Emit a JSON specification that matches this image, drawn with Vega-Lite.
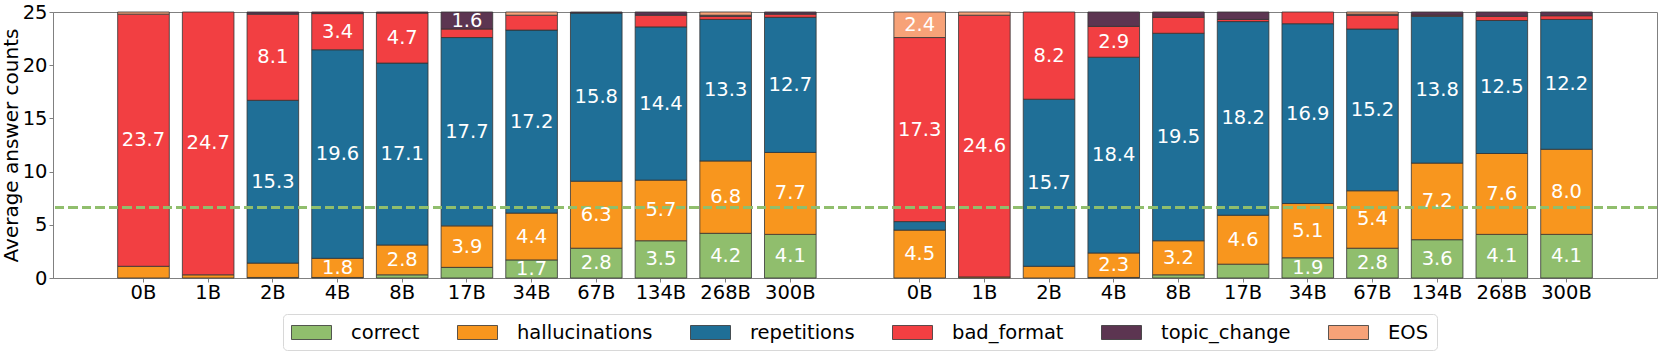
{
  "$schema": "https://vega.github.io/schema/vega-lite/v6.json",
  "width": 1604,
  "height": 266,
  "autosize": "none",
  "padding": {"left": 53, "top": 12, "right": 4, "bottom": 78},
  "config": {"font": "DejaVu Sans", "view": {"stroke": "#808080", "strokeWidth": 1}},
  "data": {
    "values": [
      {"id": "a:0B", "correct": 0, "hallucinations": 1.1, "repetitions": 0, "bad_format": 23.7, "topic_change": 0, "EOS": 0.2},
      {"id": "a:1B", "correct": 0, "hallucinations": 0.3, "repetitions": 0, "bad_format": 24.7, "topic_change": 0, "EOS": 0},
      {"id": "a:2B", "correct": 0.05, "hallucinations": 1.35, "repetitions": 15.3, "bad_format": 8.1, "topic_change": 0.2, "EOS": 0},
      {"id": "a:4B", "correct": 0.05, "hallucinations": 1.8, "repetitions": 19.6, "bad_format": 3.4, "topic_change": 0.15, "EOS": 0},
      {"id": "a:8B", "correct": 0.3, "hallucinations": 2.8, "repetitions": 17.1, "bad_format": 4.7, "topic_change": 0.1, "EOS": 0},
      {"id": "a:17B", "correct": 1.0, "hallucinations": 3.9, "repetitions": 17.7, "bad_format": 0.8, "topic_change": 1.6, "EOS": 0},
      {"id": "a:34B", "correct": 1.7, "hallucinations": 4.4, "repetitions": 17.2, "bad_format": 1.4, "topic_change": 0, "EOS": 0.3},
      {"id": "a:67B", "correct": 2.8, "hallucinations": 6.3, "repetitions": 15.8, "bad_format": 0, "topic_change": 0.1, "EOS": 0},
      {"id": "a:134B", "correct": 3.5, "hallucinations": 5.7, "repetitions": 14.4, "bad_format": 1.1, "topic_change": 0.3, "EOS": 0},
      {"id": "a:268B", "correct": 4.2, "hallucinations": 6.8, "repetitions": 13.3, "bad_format": 0.3, "topic_change": 0.1, "EOS": 0.3},
      {"id": "a:300B", "correct": 4.1, "hallucinations": 7.7, "repetitions": 12.7, "bad_format": 0.3, "topic_change": 0.2, "EOS": 0},
      {"id": "b:0B", "correct": 0, "hallucinations": 4.5, "repetitions": 0.8, "bad_format": 17.3, "topic_change": 0, "EOS": 2.4},
      {"id": "b:1B", "correct": 0, "hallucinations": 0.1, "repetitions": 0, "bad_format": 24.6, "topic_change": 0, "EOS": 0.3},
      {"id": "b:2B", "correct": 0, "hallucinations": 1.1, "repetitions": 15.7, "bad_format": 8.2, "topic_change": 0, "EOS": 0},
      {"id": "b:4B", "correct": 0.05, "hallucinations": 2.3, "repetitions": 18.4, "bad_format": 2.9, "topic_change": 1.35, "EOS": 0},
      {"id": "b:8B", "correct": 0.3, "hallucinations": 3.2, "repetitions": 19.5, "bad_format": 1.5, "topic_change": 0.5, "EOS": 0},
      {"id": "b:17B", "correct": 1.3, "hallucinations": 4.6, "repetitions": 18.2, "bad_format": 0.2, "topic_change": 0.7, "EOS": 0},
      {"id": "b:34B", "correct": 1.9, "hallucinations": 5.1, "repetitions": 16.9, "bad_format": 1.1, "topic_change": 0, "EOS": 0},
      {"id": "b:67B", "correct": 2.8, "hallucinations": 5.4, "repetitions": 15.2, "bad_format": 1.3, "topic_change": 0.1, "EOS": 0.2},
      {"id": "b:134B", "correct": 3.6, "hallucinations": 7.2, "repetitions": 13.8, "bad_format": 0.1, "topic_change": 0.3, "EOS": 0},
      {"id": "b:268B", "correct": 4.1, "hallucinations": 7.6, "repetitions": 12.5, "bad_format": 0.4, "topic_change": 0.4, "EOS": 0},
      {"id": "b:300B", "correct": 4.1, "hallucinations": 8.0, "repetitions": 12.2, "bad_format": 0.35, "topic_change": 0.35, "EOS": 0}
    ]
  },
  "transform": [
    {"fold": ["correct", "hallucinations", "repetitions", "bad_format", "topic_change", "EOS"], "as": ["category", "value"]},
    {"stack": "value", "groupby": ["id"], "as": ["v0", "v1"]}
  ],
  "layer": [
    {
      "mark": {"type": "bar", "stroke": "#333333", "strokeWidth": 0.8},
      "transform": [{"filter": "datum.value > 0"}],
      "encoding": {
        "x": {
          "field": "id",
          "type": "nominal",
          "scale": {
            "domain": ["a:0B", "a:1B", "a:2B", "a:4B", "a:8B", "a:17B", "a:34B", "a:67B", "a:134B", "a:268B", "a:300B", "gap", "b:0B", "b:1B", "b:2B", "b:4B", "b:8B", "b:17B", "b:34B", "b:67B", "b:134B", "b:268B", "b:300B"],
            "paddingInner": 0.202,
            "paddingOuter": 1.151
          },
          "axis": {
            "title": null,
            "values": ["a:0B", "a:1B", "a:2B", "a:4B", "a:8B", "a:17B", "a:34B", "a:67B", "a:134B", "a:268B", "a:300B", "b:0B", "b:1B", "b:2B", "b:4B", "b:8B", "b:17B", "b:34B", "b:67B", "b:134B", "b:268B", "b:300B"],
            "labelExpr": "split(datum.label, ':')[1]",
            "labelAngle": 0,
            "labelFontSize": 19.5,
            "labelColor": "black",
            "tickSize": 4,
            "labelPadding": 1,
            "domainColor": "#808080",
            "tickColor": "#808080"
          }
        },
        "y": {
          "field": "v0",
          "type": "quantitative",
          "scale": {"domain": [0, 25], "nice": false},
          "axis": {
            "title": "Average answer counts",
            "values": [0, 5, 10, 15, 20, 25],
            "grid": false,
            "labelFontSize": 19.5,
            "labelColor": "black",
            "titleFontSize": 20,
            "titleFontWeight": "normal",
            "titleColor": "black",
            "tickSize": 4,
            "labelPadding": 2,
            "titlePadding": 1,
            "domainColor": "#808080",
            "tickColor": "#808080"
          }
        },
        "y2": {"field": "v1"},
        "color": {
          "field": "category",
          "type": "nominal",
          "scale": {
            "domain": ["correct", "hallucinations", "repetitions", "bad_format", "topic_change", "EOS"],
            "range": ["#90be6d", "#f8961e", "#1f6f97", "#f23f42", "#5c3551", "#f7a278"]
          },
          "legend": {
            "title": null,
            "orient": "none",
            "legendX": 230,
            "legendY": 302,
            "direction": "horizontal",
            "symbolType": "M-2,-0.7H2V0.7H-2Z",
            "symbolSize": 400,
            "symbolOffset": 10,
            "symbolStrokeColor": "#333333",
            "symbolStrokeWidth": 0.8,
            "symbolOpacity": 1,
            "labelFontSize": 19.5,
            "labelColor": "black",
            "labelOffset": 29,
            "columnPadding": 35,
            "padding": 8,
            "strokeColor": "#d8d8d8",
            "cornerRadius": 4,
            "fillColor": "white"
          }
        }
      }
    },
    {
      "mark": {"type": "rule", "strokeDash": [9, 4.5], "strokeWidth": 2.5, "color": "#90be6d"},
      "encoding": {"y": {"datum": 6.65, "type": "quantitative"}}
    },
    {
      "mark": {"type": "text", "color": "white", "fontSize": 19.5, "baseline": "middle", "align": "center"},
      "transform": [
        {"filter": "datum.value >= 1.55"},
        {"fold": ["v0", "v1"], "as": ["end", "pos"]}
      ],
      "encoding": {
        "x": {"field": "id", "type": "nominal"},
        "y": {"aggregate": "mean", "field": "pos", "type": "quantitative"},
        "text": {"aggregate": "max", "field": "value", "type": "quantitative", "format": ".1f"},
        "detail": {"field": "category", "type": "nominal"}
      }
    }
  ]
}
